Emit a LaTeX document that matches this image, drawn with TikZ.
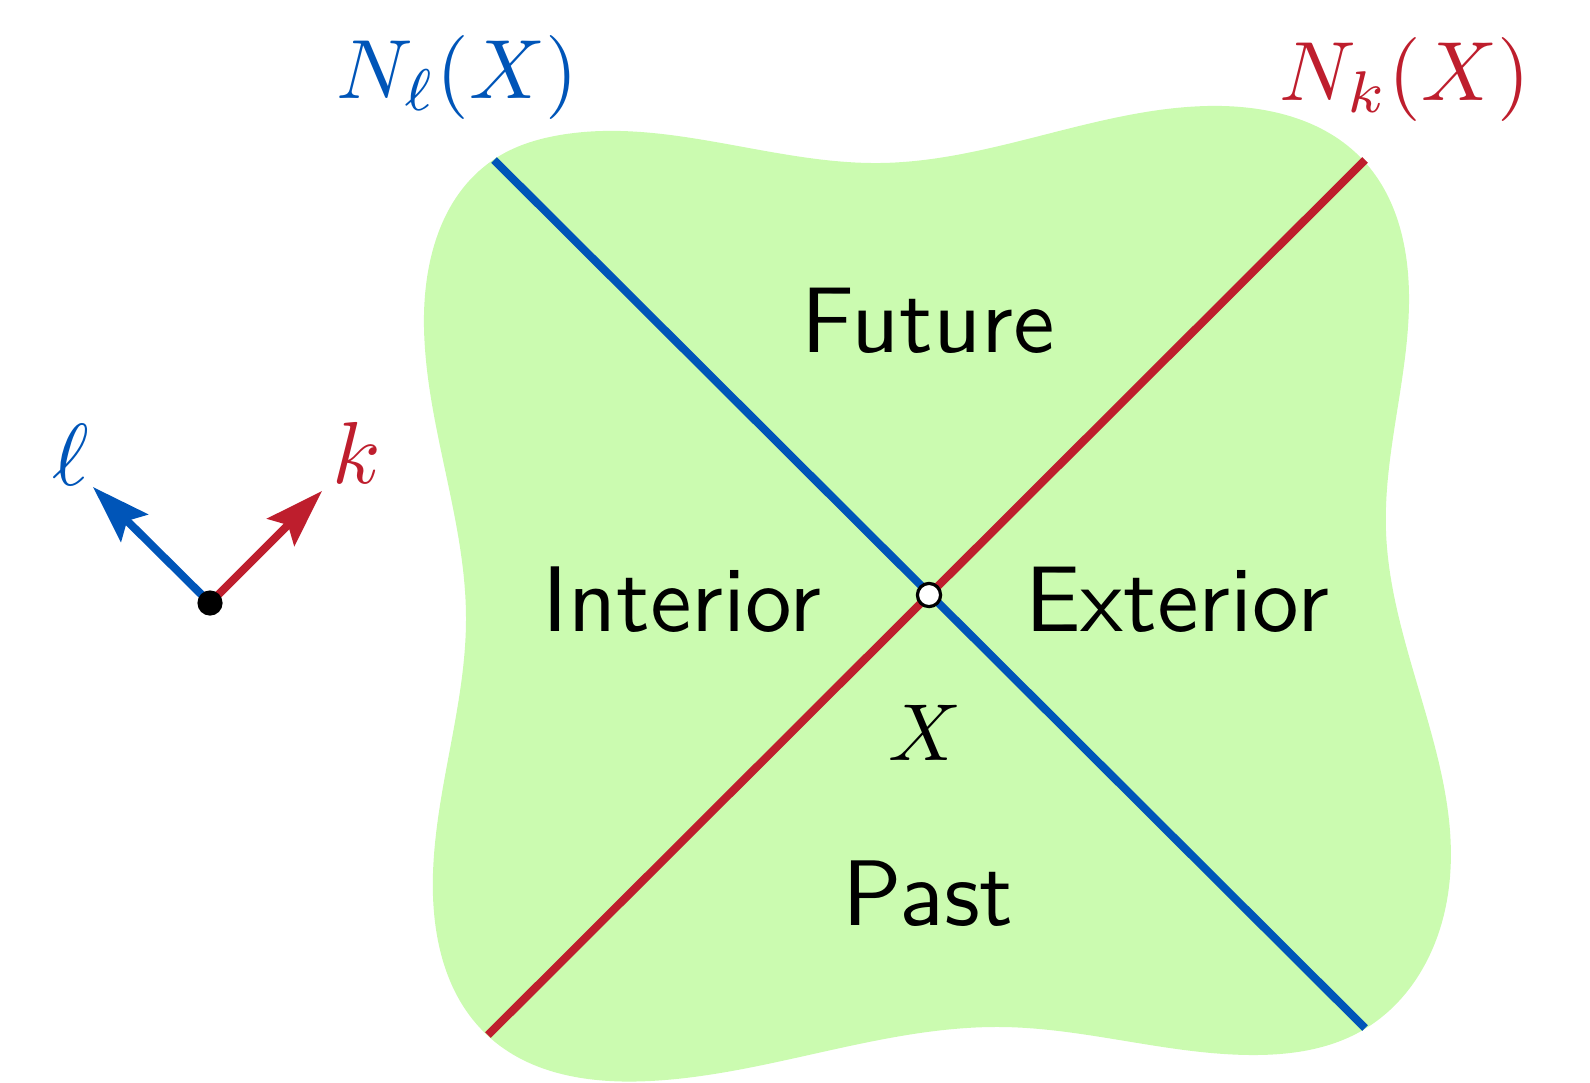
\documentclass[tikz,border=0pt]{standalone}
\usetikzlibrary{arrows.meta,hobby}
\definecolor{nlblue}{RGB}{0,85,184}
\definecolor{nkred}{RGB}{190,30,45}
\definecolor{blobgreen}{RGB}{203,251,176}
\begin{document}
\begin{tikzpicture}[x=0.25pt,y=-0.25pt,
  nullline/.style={line width=2pt},
  region/.style={inner sep=0pt, anchor=base},
  mathlbl/.style={inner sep=0pt, anchor=base west},
  veclbl/.style={inner sep=0pt, anchor=base},
  vec/.style={line width=2pt,-{Stealth[length=14.5pt,width=9.5pt,inset=2.5pt]}}]
\useasboundingbox (0,0) rectangle (1590,1082);
% region
\path[fill=blobgreen, use Hobby shortcut, closed=true]
  (493,160) .. (560,135) .. (880,163) .. (1207,106) .. (1363,160) ..
  (1409,297) .. (1386,532) .. (1447,900) .. (1363,1030) .. (1253,1055) ..
  (1003,1027) .. (650,1081) .. (487,1035) .. (433,873) .. (466,618) ..
  (424,328) .. (493,160);
% null lines
\coordinate (tl) at (494,160);
\coordinate (br) at (1365,1028);
\coordinate (tr) at (1365,160);
\coordinate (bl) at (488,1035);
\draw[nullline, nkred] (tr) -- (bl);
\draw[nullline, nlblue] (tl) -- (br);
\node[circle, draw=black, fill=white, line width=0.8pt, inner sep=0pt, minimum size=5.8pt] (X) at (929,595) {};
% texts
\node[region] (future) at (928,352) {\scalebox{2.33}{\sffamily Future}};
\node[region] (interior) at (682,631) {\scalebox{2.33}{\sffamily Interior}};
\node[region] (exterior) at (1177,631) {\scalebox{2.33}{\sffamily Exterior}};
\node[region] (past) at (928,925) {\scalebox{2.33}{\sffamily Past}};
\node[inner sep=0pt, anchor=base] (xlbl) at (925,760) {\scalebox{2.02}{$X$}};
\node[mathlbl, text=nlblue] (nl) at (336,98) {\scalebox{2.1}{$N_\ell(X)$}};
\node[mathlbl, text=nkred] (nk) at (1279,100) {\scalebox{2.1}{$N_k(X)$}};
% vectors
\coordinate (o) at (210,603);
\coordinate (ltip) at (93,487);
\coordinate (ktip) at (322,491);
\draw[vec, nlblue] (o) -- (ltip);
\draw[vec, nkred] (o) -- (ktip);
\node[circle, fill=black, inner sep=0pt, minimum size=6.3pt] (dot) at (o) {};
\node[veclbl, text=nlblue] (llbl) at (71,485) {\scalebox{2.2}{$\ell$}};
\node[veclbl, text=nkred] (klbl) at (357,483) {\scalebox{2.2}{$k$}};
\end{tikzpicture}
\end{document}
